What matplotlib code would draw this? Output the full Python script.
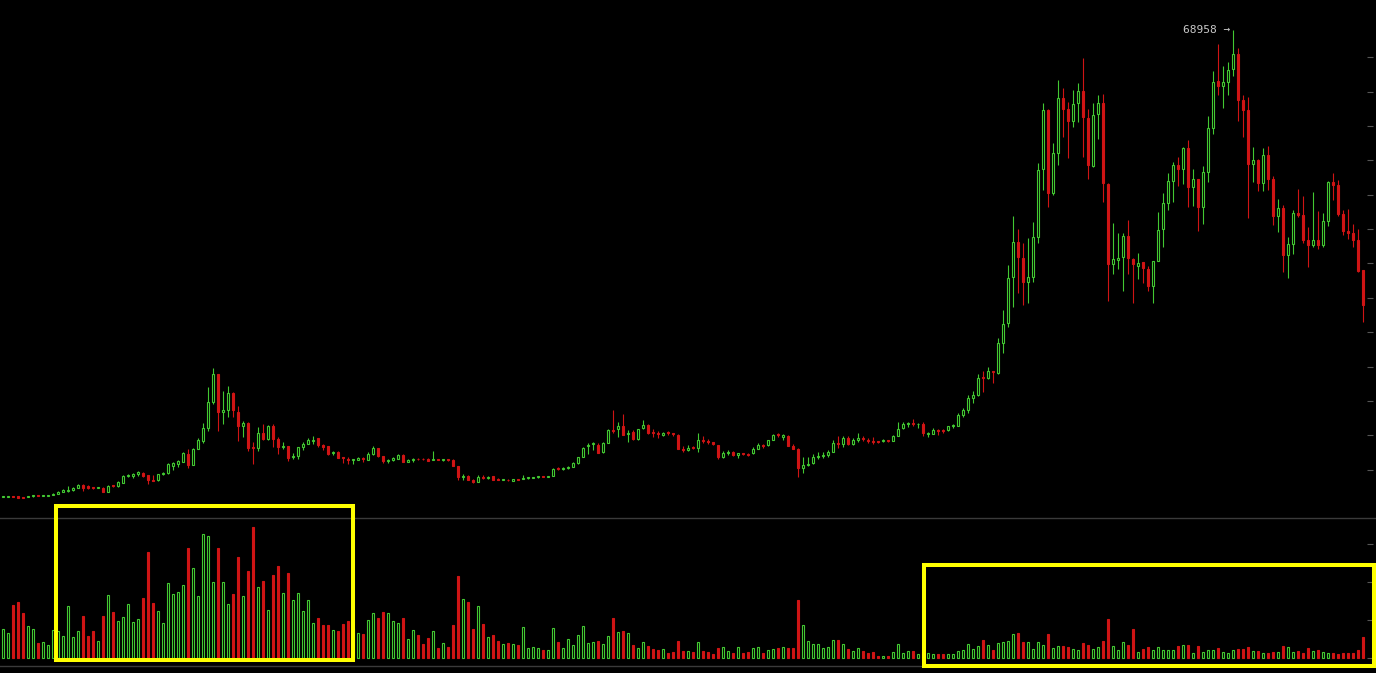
import numpy as np
import matplotlib
matplotlib.use('Agg')
import matplotlib.pyplot as plt
from matplotlib.patches import Rectangle
from matplotlib.lines import Line2D

# ==========================
# Weekly OHLC (USD) + volume (thousand BTC)
# ==========================
opens = [
    1045, 1100, 1145, 1145, 1000, 1000, 1150, 1190, 1190, 1240,
    1385, 1530, 1775, 1900, 2015, 2405, 2790, 2600, 2500, 2350,
    2405, 1820, 2695, 2600, 3130, 4050, 4100, 4345, 4535, 4245,
    3565, 3520, 4345, 4585, 5555, 5895, 6185, 7300, 5700, 8075,
    9240, 11030, 14910, 18930, 13455, 13700, 16120, 13455, 11420, 11855,
    8220, 8125, 10305, 9430, 11370, 9480, 8270, 8400, 6800, 7010,
    8365, 8755, 9250, 9580, 8600, 8510, 7400, 7590, 6700, 6600,
    6400, 6425, 6600, 6475, 7250, 8125, 6960, 6350, 6425, 6620,
    7155, 6135, 6450, 6550, 6550, 6620, 6450, 6500, 6400, 6425,
    6425, 5554, 4000, 4150, 3550, 3276, 3955, 3850, 4100, 3600,
    3530, 3550, 3421, 3616, 3600, 3800, 3850, 3900, 4003, 3950,
    4100, 5166, 5070, 5215, 5457, 5942, 6911, 8400, 8700, 8560,
    7541, 8947, 10850, 10886, 11370, 10200, 10498, 9480, 11031, 11516,
    10400, 10250, 10010, 10350, 10250, 10062, 8000, 7900, 8200, 8123,
    9300, 9150, 9000, 8560, 6911, 7400, 7541, 7100, 7396, 7300,
    7396, 8075, 8560, 8608, 9335, 10100, 9700, 9916, 8462, 8026,
    5311, 5750, 5942, 6815, 6950, 7106, 7638, 8850, 8705, 9674,
    8705, 9400, 9600, 9400, 9200, 9100, 9200, 9250, 9238, 9965,
    11031, 11700, 11700, 11600, 11661, 10207, 10255, 10741, 10741, 10741,
    11322, 11419, 12970, 13697, 15442, 15926, 18350, 18301, 19300, 19125,
    23487, 26300, 32990, 38080, 35750, 32350, 33090, 38900, 48690, 57310,
    45290, 51110, 59020, 57420, 55760, 58290, 60040, 56110, 49220, 56690,
    58290, 46510, 34880, 35510, 35900, 39000, 35610, 34700, 35170, 34150,
    31770, 35360, 39970, 43850, 47040, 49320, 48740, 51750, 46080, 47240,
    43260, 48340, 54740, 61530, 60860, 61430, 63280, 65460, 58770, 57310,
    49460, 50040, 46750, 50770, 47280, 41950, 43020, 36230, 37830, 42300,
    42050, 38420, 37690, 38420, 37690, 41180, 46850, 46410, 42200, 39720,
    39380, 38420, 34050,
]
highs = [
    1145, 1190, 1190, 1190, 1045, 1120, 1240, 1200, 1340, 1360,
    1600, 1850, 2160, 2645, 2450, 2935, 2935, 2745, 2550, 2550,
    2500, 2745, 2745, 3325, 4195, 4390, 4490, 4875, 4680, 4300,
    4245, 4400, 4700, 6040, 6185, 6380, 7640, 7980, 8150, 9580,
    11855, 17090, 19800, 19000, 16460, 17190, 16360, 14280, 12100, 12000,
    9090, 11175, 11660, 11515, 11660, 9720, 9045, 8460, 7490, 8365,
    9090, 9675, 9915, 9580, 8755, 8510, 7735, 7700, 6910, 6800,
    6525, 6800, 6800, 7540, 8460, 8200, 7000, 6600, 6910, 7300,
    7300, 6500, 6720, 6700, 6650, 6700, 7735, 6550, 6500, 6550,
    6500, 5600, 4400, 4250, 3600, 4250, 4250, 4100, 4150, 3750,
    3600, 3600, 3700, 3650, 4200, 3950, 3950, 4050, 4050, 4150,
    5300, 5450, 5350, 5600, 6150, 6900, 8300, 8950, 9093, 8850,
    9093, 11000, 13697, 12000, 13115, 10789, 10800, 11000, 12243, 11700,
    10886, 10700, 10500, 10600, 10400, 10200, 8400, 8600, 8400, 10304,
    9900, 9500, 9100, 8600, 7700, 7881, 7700, 7500, 7500, 7400,
    8250, 8950, 8800, 9400, 10200, 10304, 10200, 10062, 8700, 8100,
    6911, 6911, 7300, 7541, 7541, 7881, 9335, 9916, 9916, 9916,
    9674, 10401, 9916, 9577, 9820, 9150, 9500, 9400, 10000, 11903,
    11900, 11903, 12388, 11758, 11903, 10450, 11031, 10934, 10934, 11400,
    11709, 13212, 13988, 15829, 16411, 18883, 19368, 19900, 19400, 24118,
    28237, 34780, 41890, 39970, 37930, 38660, 40990, 49560, 58380, 57400,
    52470, 61680, 60470, 58500, 60230, 61200, 64830, 57420, 58290, 59500,
    59640, 46700, 40935, 39480, 39390, 41320, 35750, 36480, 35200, 34600,
    35400, 42490, 45200, 48110, 49800, 50440, 51980, 52950, 48690, 47300,
    49180, 56470, 62990, 66910, 63690, 64280, 68958, 66290, 59500, 59170,
    51980, 50240, 51750, 52080, 47720, 44380, 43500, 38810, 42780, 45790,
    44860, 40350, 45350, 42630, 42390, 47000, 48200, 47140, 42780, 42920,
    40740, 40010, 34100,
]
lows = [
    1000, 1095, 1000, 940, 855, 980, 1095, 1130, 1145, 1230,
    1340, 1520, 1760, 1800, 1990, 2380, 1965, 2280, 2260, 2305,
    1800, 1800, 2550, 2550, 3100, 3905, 3800, 4150, 4000, 2935,
    3375, 3325, 4300, 4400, 4975, 5410, 6100, 5310, 5650, 8000,
    8850, 10690, 14500, 10690, 11615, 12725, 12630, 9240, 9820, 7785,
    5845, 7785, 9400, 9350, 8270, 7300, 8025, 6330, 6570, 6570,
    7880, 8755, 8755, 8365, 7880, 7100, 7155, 6700, 6040, 5800,
    5800, 6400, 6200, 6400, 7200, 6910, 6040, 6000, 6300, 6600,
    6100, 6100, 6200, 6450, 6450, 6250, 6400, 6400, 6350, 6300,
    5500, 3519, 3550, 3450, 3150, 3250, 3650, 3700, 3500, 3500,
    3450, 3400, 3400, 3550, 3600, 3700, 3750, 3850, 3900, 3900,
    4050, 4950, 5000, 5100, 5400, 5900, 6800, 7300, 7881, 7400,
    7400, 8850, 10401, 9723, 10000, 9093, 9400, 9400, 10900, 10200,
    9800, 9600, 9900, 10000, 9900, 7978, 7640, 7700, 8000, 7541,
    8900, 8750, 8600, 6500, 6650, 7100, 7000, 6669, 7100, 7000,
    7300, 8000, 8200, 8500, 9300, 9700, 9335, 8400, 8000, 4003,
    4488, 5554, 5800, 6500, 6669, 6815, 7550, 8123, 8269, 8600,
    8600, 9093, 9238, 8950, 8800, 8950, 9100, 9100, 9200, 9900,
    11000, 11200, 11400, 11128, 9965, 9819, 10200, 10062, 10401, 10700,
    11128, 11300, 12727, 13212, 14763, 15800, 16362, 18200, 17670, 18931,
    21937, 25800, 28630, 30660, 28960, 29300, 32350, 38020, 45690, 43260,
    45000, 49330, 53450, 50390, 54910, 55630, 50530, 47240, 48980, 53070,
    43990, 29590, 33470, 34150, 31040, 33470, 29300, 32700, 32120, 31040,
    29300, 35300, 37350, 42780, 43980, 46270, 46560, 43260, 43360, 39760,
    40730, 46890, 53830, 59500, 57650, 59500, 62260, 55720, 53450, 41570,
    46890, 45580, 45580, 45690, 40590, 39620, 33800, 32930, 36380, 41720,
    38020, 34450, 37440, 37110, 37440, 40450, 44230, 41900, 39140, 38560,
    37440, 33810, 26530,
]
closes = [
    1095, 1150, 1045, 950, 950, 1095, 1190, 1145, 1240, 1340,
    1530, 1775, 2065, 1940, 2405, 2840, 2305, 2305, 2350, 2500,
    1820, 2695, 2600, 3180, 4050, 4150, 4345, 4680, 4100, 3520,
    3420, 4345, 4585, 5800, 5940, 6235, 7395, 5700, 8075, 9335,
    11130, 14910, 18930, 13455, 13700, 16120, 13700, 11420, 11855, 8220,
    8125, 10305, 9480, 11370, 9480, 8270, 8400, 6765, 7010, 8270,
    8755, 9335, 9400, 8610, 8365, 7250, 7590, 6765, 6670, 6475,
    6475, 6670, 6525, 7250, 8125, 7010, 6280, 6425, 6670, 7155,
    6135, 6425, 6525, 6500, 6500, 6300, 6500, 6450, 6425, 6380,
    5555, 4003, 4150, 3519, 3250, 3907, 3850, 4000, 3519, 3560,
    3560, 3450, 3616, 3580, 3858, 3858, 3907, 4003, 3955, 4100,
    5118, 5070, 5215, 5311, 6039, 6815, 8123, 8600, 8850, 7493,
    8850, 10789, 10700, 11370, 10110, 10304, 9480, 10886, 11516, 10304,
    10304, 10159, 10400, 10304, 10159, 8075, 7881, 8100, 8123, 9335,
    9238, 9093, 8705, 6911, 7396, 7550, 7106, 7396, 7300, 7200,
    8026, 8608, 8462, 9335, 10013, 10013, 10062, 8462, 8075, 5311,
    5700, 5850, 6815, 6900, 7106, 7638, 8850, 8750, 9674, 8705,
    9335, 9577, 9520, 9238, 9093, 9050, 9238, 9200, 9965, 10886,
    11661, 11758, 11650, 11700, 10304, 10300, 10741, 10700, 10700, 11322,
    11419, 12970, 13697, 15442, 15829, 18350, 18300, 19319, 19270, 23390,
    26201, 32840, 38080, 35990, 32350, 32990, 38810, 48590, 57310, 45290,
    51020, 59020, 57420, 55760, 58190, 60040, 56260, 49320, 56550, 58290,
    46660, 34880, 35610, 35750, 39000, 35750, 34880, 35000, 34300, 31770,
    35360, 39860, 43750, 47000, 49320, 48740, 51750, 46080, 47240, 43260,
    48260, 54680, 61430, 60860, 61390, 63200, 65460, 58770, 57310, 49460,
    50040, 46750, 50770, 47280, 41950, 43020, 36230, 37830, 42300, 42050,
    38420, 37690, 38420, 37690, 41180, 46850, 46410, 42200, 39720, 39380,
    38420, 33950, 28960,
]
volumes = [
    37.7, 32.5, 69.7, 73.3, 58.8, 41.7, 37.7, 19.3, 20.6, 16.7,
    36.4, 35.1, 28.5, 68.0, 27.2, 35.1, 54.9, 28.5, 35.1, 22.0,
    54.9, 82.5, 60.1, 48.3, 53.6, 70.7, 47.0, 50.9, 78.6, 139.1,
    72.0, 61.5, 45.7, 98.3, 83.8, 86.5, 95.7, 144.4, 118.0, 81.2,
    162.8, 160.2, 99.6, 144.4, 99.6, 70.7, 83.8, 132.5, 81.2, 114.1,
    172.0, 93.0, 100.9, 62.8, 108.8, 120.7, 85.1, 111.5, 75.9, 85.1,
    61.5, 75.9, 45.7, 52.2, 43.0, 43.0, 36.4, 35.1, 44.3, 48.3,
    40.0, 32.5, 31.2, 49.6, 58.8, 52.2, 60.1, 58.8, 48.3, 45.7,
    52.2, 24.6, 36.4, 29.9, 18.0, 25.9, 35.1, 12.8, 19.3, 14.1,
    43.0, 107.5, 77.2, 73.3, 37.7, 68.0, 44.3, 27.2, 29.8, 21.9,
    18.0, 19.3, 18.0, 16.7, 40.4, 12.7, 14.0, 12.7, 10.1, 10.1,
    39.0, 20.6, 12.7, 24.6, 16.7, 29.8, 41.7, 19.3, 20.6, 21.9,
    18.0, 28.5, 52.2, 33.8, 35.1, 32.5, 16.7, 12.7, 20.6, 15.4,
    11.4, 10.1, 11.4, 6.1, 7.5, 21.9, 8.8, 8.8, 7.5, 20.6,
    8.8, 7.5, 4.8, 12.7, 14.0, 8.8, 6.1, 14.0, 6.1, 7.5,
    12.7, 14.0, 6.1, 10.1, 11.4, 12.7, 14.0, 12.7, 12.7, 75.9,
    43.0, 21.9, 18.0, 18.0, 12.7, 14.0, 23.2, 23.2, 18.0, 11.4,
    8.8, 12.7, 8.8, 6.1, 7.5, 3.1, 3.1, 2.2, 7.5, 18.0,
    6.6, 9.2, 9.2, 5.3, 8.0, 6.6, 5.3, 5.3, 5.3, 5.3,
    5.3, 9.2, 10.1, 18.4, 11.8, 15.8, 23.7, 17.1, 10.5, 19.7,
    21.1, 22.4, 31.6, 32.9, 21.1, 21.1, 11.8, 21.1, 17.1, 31.6,
    13.2, 15.8, 15.8, 14.5, 11.8, 10.5, 19.7, 17.1, 11.8, 14.5,
    22.4, 51.3, 15.8, 10.5, 21.1, 17.1, 38.2, 7.9, 11.8, 14.5,
    10.5, 14.5, 10.5, 10.5, 10.5, 15.8, 17.1, 17.1, 6.6, 15.8,
    7.9, 10.5, 10.5, 13.2, 7.9, 6.6, 10.5, 11.8, 11.8, 14.5,
    9.2, 9.2, 6.6, 6.6, 7.9, 7.9, 15.8, 14.5, 7.9, 9.2,
    6.6, 13.2, 9.2, 10.5, 7.9, 6.6, 6.6, 5.3, 6.6, 6.6,
    6.6, 10.5, 27.6,
]

price_ticks = [5000, 10000, 15000, 20000, 25000, 30000, 35000,
               40000, 45000, 50000, 55000, 60000, 65000]
volume_ticks = [0, 50, 100, 150]

# ==========================
# Style
# ==========================
GREEN = '#42c832'
RED = '#cf1414'
BG = 'black'
GRID = '#3a3a3a'
TICK = '#555555'
W, H = 1376, 673

o = np.array(opens, float)
h = np.array(highs, float)
l = np.array(lows, float)
c = np.array(closes, float)
v = np.array(volumes, float)
x = np.arange(len(c))
up = c >= o

fig = plt.figure(figsize=(W / 100, H / 100), dpi=100, facecolor=BG)


def fx(px):
    return px / W


def fy(py):
    return 1 - py / H


ax_p = fig.add_axes([0, fy(518), fx(1373), 518 / H], facecolor=BG)
ax_v = fig.add_axes([0, fy(666), fx(1373), (666 - 518) / H], facecolor=BG)

for ax in (ax_p, ax_v):
    ax.set_xlim(-0.6, 274)
    for s in ax.spines.values():
        s.set_visible(False)
    ax.set_xticks([])
    ax.yaxis.set_ticks_position('right')
    ax.tick_params(axis='y', direction='in', length=4.3, width=0.8,
                   color=TICK, labelright=False, labelleft=False)

# ==========================
# Candles
# ==========================
ax_p.set_ylim(-2007, 73310)
ax_p.set_yticks(price_ticks)

wick_cols = np.where(up, GREEN, RED)
ax_p.vlines(x, l, h, colors=wick_cols, linewidth=0.8, zorder=1)

body_bottom = np.minimum(o, c)
body_h = np.maximum(np.abs(c - o), 130)
ax_p.bar(x[up], body_h[up], bottom=body_bottom[up], width=0.45,
         facecolor=BG, edgecolor=GREEN, linewidth=0.8, zorder=2)
ax_p.bar(x[~up], body_h[~up], bottom=body_bottom[~up], width=0.45,
         facecolor=RED, edgecolor=RED, linewidth=0.8, zorder=2)

# max price label
i_max = int(np.argmax(h))
ax_p.text(i_max - 0.6, h[i_max], f"{h[i_max]:.0f} \u2192", ha='right',
          va='center', color='#c8c8c8', fontsize=8,
          family='DejaVu Sans Mono', zorder=3)

# ==========================
# Volume
# ==========================
ax_v.set_ylim(-10.5, 184.2)
ax_v.set_yticks(volume_ticks)
ax_v.bar(x[up], v[up], width=0.45, facecolor=BG, edgecolor=GREEN,
         linewidth=0.8)
ax_v.bar(x[~up], v[~up], width=0.45, facecolor=RED, edgecolor=RED,
         linewidth=0.8)

# ==========================
# panel separators + highlight boxes
# ==========================
for py in (518, 666):
    fig.add_artist(Line2D([0, 1], [fy(py), fy(py)], color=GRID,
                          linewidth=1.0, transform=fig.transFigure))

for (x0, y0, x1, y1) in [(56, 506, 353, 660), (924, 565, 1374, 665.5)]:
    fig.add_artist(Rectangle((fx(x0), fy(y1)), fx(x1 - x0), (y1 - y0) / H,
                             fill=False, edgecolor='#ffff00', linewidth=2.9,
                             transform=fig.transFigure, zorder=10))

fig.savefig('out.png', dpi=100, facecolor=BG)
